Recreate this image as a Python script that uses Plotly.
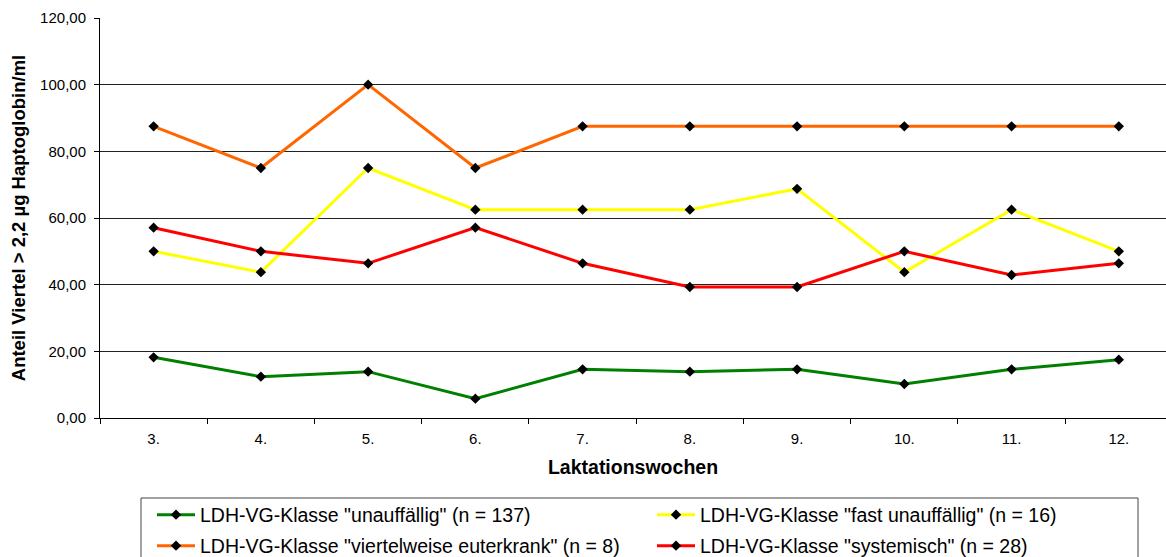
import plotly.graph_objects as go

# Laktationswochen
weeks = ["3.", "4.", "5.", "6.", "7.", "8.", "9.", "10.", "11.", "12."]

# Anteil Viertel > 2,2 µg Haptoglobin/ml je LDH-VG-Klasse
unauffaellig = [18.2, 12.4, 13.9, 5.8, 14.6, 13.9, 14.6, 10.2, 14.6, 17.5]
fast_unauffaellig = [50.0, 43.75, 75.0, 62.5, 62.5, 62.5, 68.75, 43.75, 62.5, 50.0]
viertelweise = [87.5, 75.0, 100.0, 75.0, 87.5, 87.5, 87.5, 87.5, 87.5, 87.5]
systemisch = [57.1, 50.0, 46.4, 57.1, 46.4, 39.3, 39.3, 50.0, 42.9, 46.4]

names = [
    'LDH-VG-Klasse "unauffällig" (n = 137)',
    'LDH-VG-Klasse "fast unauffällig" (n = 16)',
    'LDH-VG-Klasse "viertelweise euterkrank" (n = 8)',
    'LDH-VG-Klasse "systemisch" (n = 28)',
]
colors = ["#008000", "#FFFF00", "#FF6600", "#FF0000"]
legends = ["legend", "legend", "legend2", "legend2"]

font = "Arial, Liberation Sans, sans-serif"

fig = go.Figure()
for vals, name, col, lg in zip(
    [unauffaellig, fast_unauffaellig, viertelweise, systemisch], names, colors, legends
):
    fig.add_trace(go.Scatter(
        x=weeks, y=vals, name=name, mode="lines+markers", legend=lg,
        line=dict(color=col, width=3),
        marker=dict(symbol="diamond", size=8, color="black"),
    ))

# legend frame
fig.add_shape(type="rect", xref="paper", yref="paper",
              x0=(141 - 100) / 1066, x1=(1138 - 100) / 1066,
              y0=(418 - 562) / 400, y1=(418 - 498) / 400,
              line=dict(color="#444", width=1), fillcolor="rgba(0,0,0,0)")

leg_common = dict(orientation="h", xanchor="left", yanchor="middle",
                  xref="container", yref="container",
                  font=dict(family=font, size=19.5, color="black"),
                  bgcolor="rgba(0,0,0,0)", entrywidth=447, itemwidth=38,
                  tracegroupgap=0)

fig.update_layout(
    width=1166, height=557,
    margin=dict(l=100, r=0, t=18, b=139),
    paper_bgcolor="white", plot_bgcolor="white",
    separators=",.",
    font=dict(family=font, size=15, color="black"),
    legend=dict(x=152 / 1166, y=1 - 515 / 557, **leg_common),
    legend2=dict(x=152 / 1166, y=1 - 546 / 557, **leg_common),
    xaxis=dict(
        range=[-0.5, 9.44], type="category", automargin=False,
        showline=True, linecolor="black", linewidth=1,
        ticks="outside", ticklen=5, tickcolor="black", tickson="boundaries",
        showgrid=False, ticklabelstandoff=7,
        tickfont=dict(size=15),
        title=dict(text="<b>Laktationswochen</b>", font=dict(size=19.5), standoff=14),
    ),
    yaxis=dict(
        range=[0, 120], dtick=20, tickformat=".2f", automargin=False,
        showline=True, linecolor="black", linewidth=1,
        ticks="outside", ticklen=5, tickcolor="black", ticklabelstandoff=5,
        showgrid=True, gridcolor="#222", gridwidth=1,
        zeroline=False,
        tickfont=dict(size=15),
        title=dict(text="<b>Anteil Viertel > 2,2 µg Haptoglobin/ml</b>",
                   font=dict(size=18.5), standoff=9),
    ),
)

fig.write_html("out.html", config={"displayModeBar": False},
               post_script="document.body.style.margin='0';")
